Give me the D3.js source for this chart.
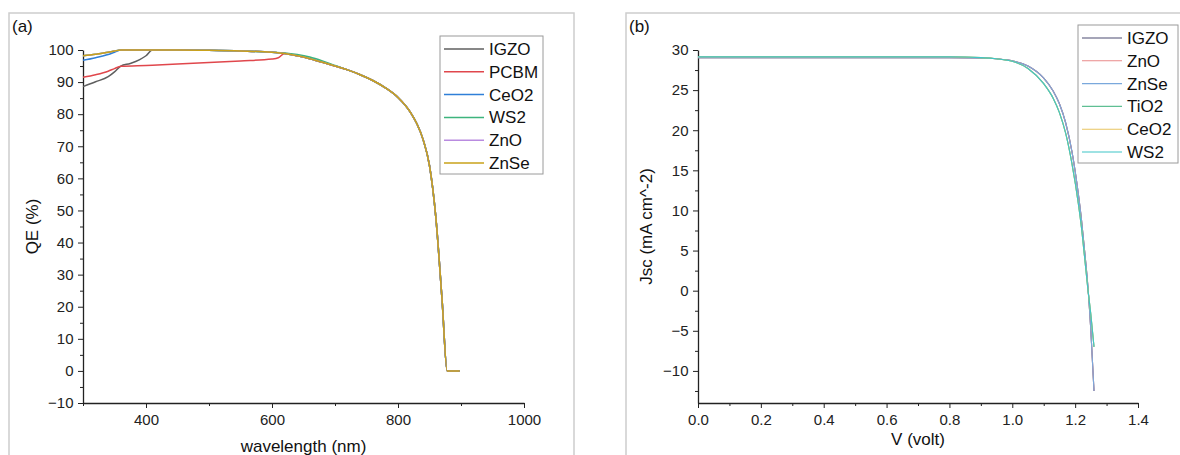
<!DOCTYPE html>
<html lang="en">
<head>
    <meta charset="UTF-8">
    <title>QE and J-V curves</title>
    <script src="https://cdnjs.cloudflare.com/ajax/libs/d3/7.8.5/d3.min.js"></script>
    <style>
        body {
            margin: 0;
            background-color: white;
            font-family: "Liberation Sans", Arial, sans-serif;
        }
        .axis path, .axis line {
            stroke: #222;
        }
        .axis text {
            font-family: "Liberation Sans", Arial, sans-serif;
            font-size: 15px;
            fill: #222;
        }
        .title {
            font-size: 17px;
            fill: #111;
        }
        .legend-text {
            font-size: 17px;
            fill: #111;
        }
    </style>
</head>
<body>
    <svg id="chart" width="1180" height="455"></svg>

    <script>
        // ---- data: panel (a) quantum efficiency ----
        const igzoNm = [300, 320, 340, 350, 360, 375, 390, 400, 410, 450, 500, 550, 600];
        const igzoQe = [88.6, 90.1, 91.7, 93.2, 95.0, 95.8, 97.0, 98.2, 100, 100, 99.9, 99.7, 99.3];
        const pcbmNm = [300, 320, 340, 350, 360, 400, 450, 500, 550, 600, 610];
        const pcbmQe = [91.5, 92.3, 93.4, 94.2, 94.9, 95.2, 95.6, 96.1, 96.6, 97.2, 97.6];
        const ceo2Nm = [300, 320, 340, 350, 360, 400, 450, 500, 550, 600];
        const ceo2Qe = [96.8, 97.6, 98.6, 99.3, 100, 100, 100, 99.9, 99.7, 99.3];
        const znseNm = [300, 320, 340, 350, 360, 400, 450, 500, 550, 600];
        const znseQe = [98.2, 98.7, 99.3, 99.7, 100, 100, 100, 99.9, 99.7, 99.3];

        // common long-wavelength tail, WS2 sits a bit higher around 620-700 nm
        const tailNm = [620, 640, 660, 680, 700, 720, 740, 760, 780, 800, 820, 830, 840, 850, 860, 870, 878, 890, 898];
        const tailQe = [98.9, 98.2, 97.3, 96.2, 95.0, 93.8, 92.3, 90.5, 88.2, 85.2, 80.5, 77.0, 72.0, 64.0, 48.0, 22.0, 0, 0, 0];
        const ws2TailQe = [99.1, 98.6, 97.8, 96.6, 95.2, 93.8, 92.3, 90.5, 88.2, 85.2, 80.5, 77.0, 72.0, 64.0, 48.0, 22.0, 0, 0, 0];

        const qeNames = ["IGZO", "PCBM", "CeO2", "WS2", "ZnO", "ZnSe"];
        const qeColors = ["#5f5f5f", "#e0474c", "#2f7fd8", "#3db47d", "#b98be0", "#c9a21a"];

        // ---- data: panel (b) J-V ----
        const voltage = [0, 0.1, 0.2, 0.3, 0.4, 0.5, 0.6, 0.7, 0.8, 0.9, 0.95, 1.0, 1.05, 1.1, 1.13, 1.15, 1.17, 1.19, 1.21, 1.22, 1.23, 1.24, 1.25, 1.26];
        const jscIGZO = [29.05, 29.05, 29.05, 29.05, 29.05, 29.05, 29.05, 29.05, 29.05, 29.0, 28.9, 28.65, 28.0, 26.5, 24.9, 23.3, 20.9, 17.3, 12.1, 8.9, 5.0, 0.8, -5.0, -12.5];
        const jscZnO  = [29.05, 29.05, 29.05, 29.05, 29.05, 29.05, 29.05, 29.05, 29.05, 29.0, 28.9, 28.65, 28.0, 26.5, 24.9, 23.3, 20.9, 17.3, 12.1, 8.9, 5.0, 0.8, -5.0, -12.5];
        const jscZnSe = [29.05, 29.05, 29.05, 29.05, 29.05, 29.05, 29.05, 29.05, 29.05, 29.0, 28.9, 28.65, 28.0, 26.5, 24.9, 23.3, 20.9, 17.3, 12.1, 8.9, 5.0, 0.8, -5.0, -12.5];
        const jscTiO2 = [29.15, 29.15, 29.15, 29.15, 29.15, 29.15, 29.15, 29.15, 29.15, 29.05, 28.9, 28.6, 27.7, 25.8, 24.0, 22.2, 19.6, 15.8, 10.9, 7.9, 4.2, 0.4, -3.0, -7.0];
        const jscCeO2 = [29.15, 29.15, 29.15, 29.15, 29.15, 29.15, 29.15, 29.15, 29.15, 29.05, 28.9, 28.6, 27.7, 25.8, 24.0, 22.2, 19.6, 15.8, 10.9, 7.9, 4.2, 0.4, -3.0, -7.0];
        const jscWS2  = [29.15, 29.15, 29.15, 29.15, 29.15, 29.15, 29.15, 29.15, 29.15, 29.05, 28.9, 28.6, 27.7, 25.8, 24.0, 22.2, 19.6, 15.8, 10.9, 7.9, 4.2, 0.4, -3.0, -7.0];

        const jvNames = ["IGZO", "ZnO", "ZnSe", "TiO2", "CeO2", "WS2"];
        const jvColors = ["#4d4d72", "#e98a8a", "#7aa8dc", "#5fbf93", "#e8c460", "#3fc6c8"];

        const zip = (xs, ys) => xs.map((x, i) => [x, ys[i]]);

        const qeSeries = [
            zip(igzoNm.concat(tailNm), igzoQe.concat(tailQe)),
            zip(pcbmNm.concat(tailNm), pcbmQe.concat(tailQe)),
            zip(ceo2Nm.concat(tailNm), ceo2Qe.concat(tailQe)),
            zip(znseNm.concat(tailNm), znseQe.concat(ws2TailQe)),
            zip(znseNm.concat(tailNm), znseQe.concat(tailQe)),
            zip(znseNm.concat(tailNm), znseQe.concat(tailQe))
        ];
        const jvSeries = [jscIGZO, jscZnO, jscZnSe, jscTiO2, jscCeO2, jscWS2].map(j => zip(voltage, j));

        const svg = d3.select("#chart");

        // panel frames
        svg.append("rect").attr("x", 9).attr("y", 13).attr("width", 565).attr("height", 470)
            .attr("fill", "none").attr("stroke", "#cdcdcd").attr("stroke-width", 1.5);
        svg.append("rect").attr("x", 626).attr("y", 13).attr("width", 570).attr("height", 470)
            .attr("fill", "none").attr("stroke", "#cdcdcd").attr("stroke-width", 1.5);

        function drawPanel(opt) {
            const g = svg.append("g");
            const x = opt.x, y = opt.y;
            const [x0, x1] = x.range();
            const [y0, y1] = y.range();

            // minor ticks first
            g.append("g").attr("class", "axis")
                .attr("transform", `translate(0,${y0})`)
                .call(d3.axisBottom(x).tickValues(opt.xMinor).tickSize(3).tickFormat(""))
                .call(a => a.select(".domain").remove());
            g.append("g").attr("class", "axis")
                .attr("transform", `translate(${x0},0)`)
                .call(d3.axisLeft(y).tickValues(opt.yMinor).tickSize(3).tickFormat(""))
                .call(a => a.select(".domain").remove());

            g.append("g").attr("class", "axis")
                .attr("transform", `translate(0,${y0})`)
                .call(d3.axisBottom(x).tickValues(opt.xTicks).tickSize(5).tickSizeOuter(0).tickFormat(opt.xFormat))
                .call(a => a.selectAll("text").attr("dy", "0.95em"));
            g.append("g").attr("class", "axis")
                .attr("transform", `translate(${x0},0)`)
                .call(d3.axisLeft(y).tickValues(opt.yTicks).tickSize(5).tickSizeOuter(0).tickFormat(opt.yFormat))
                .call(a => a.selectAll("text").attr("dx", "-0.1em"));
            g.selectAll(".domain").attr("stroke-width", 1.3);

            const line = d3.line()
                .x(d => x(d[0]))
                .y(d => y(d[1]))
                .curve(d3.curveMonotoneX);

            opt.series.forEach((s, i) => {
                g.append("path")
                    .datum(s)
                    .attr("fill", "none")
                    .attr("stroke", opt.colors[i])
                    .attr("stroke-width", opt.lineWidth)
                    .attr("d", line);
            });

            // titles
            g.append("text").attr("class", "title")
                .attr("x", (x0 + x1) / 2).attr("y", opt.xTitleY)
                .attr("text-anchor", "middle").text(opt.xTitle);
            g.append("text").attr("class", "title")
                .attr("transform", `translate(${opt.yTitleX},${(y0 + y1) / 2}) rotate(-90)`)
                .attr("text-anchor", "middle").text(opt.yTitle);
            g.append("text").attr("class", "title")
                .attr("x", opt.tag[0]).attr("y", opt.tag[1]).text(opt.tag[2]);

            // legend
            const lg = g.append("g").attr("transform", `translate(${opt.legend[0]},${opt.legend[1]})`);
            lg.append("rect").attr("width", opt.legend[2]).attr("height", 138)
                .attr("fill", "white").attr("stroke", "#9a9a9a").attr("stroke-width", 1);
            opt.names.forEach((n, i) => {
                const yy = 13 + i * 22.8;
                lg.append("line").attr("x1", 4).attr("x2", 44).attr("y1", yy).attr("y2", yy)
                    .attr("stroke", opt.colors[i]).attr("stroke-width", opt.lineWidth);
                lg.append("text").attr("class", "legend-text")
                    .attr("x", 49).attr("y", yy + 6).text(n);
            });
        }

        drawPanel({
            x: d3.scaleLinear([300, 1000], [83, 524]),
            y: d3.scaleLinear([-10, 100], [403, 50]),
            xTicks: [400, 600, 800, 1000],
            xMinor: [300, 500, 700, 900],
            yTicks: d3.range(-10, 101, 10),
            yMinor: d3.range(-5, 100, 10),
            xFormat: d3.format("d"),
            yFormat: d3.format("d"),
            series: qeSeries,
            colors: qeColors,
            names: qeNames,
            lineWidth: 1.5,
            xTitle: "wavelength (nm)",
            yTitle: "QE (%)",
            xTitleY: 452,
            yTitleX: 38,
            tag: [12, 32, "(a)"],
            legend: [440, 36, 103]
        });

        drawPanel({
            x: d3.scaleLinear([0, 1.4], [698, 1138]),
            y: d3.scaleLinear([-14, 30], [403, 50]),
            xTicks: d3.range(0, 1.41, 0.2),
            xMinor: d3.range(0.1, 1.4, 0.2),
            yTicks: d3.range(-10, 31, 5),
            yMinor: d3.range(-12.5, 30, 5),
            xFormat: d3.format(".1f"),
            yFormat: d3.format("d"),
            series: jvSeries,
            colors: jvColors,
            names: jvNames,
            lineWidth: 1.1,
            xTitle: "V (volt)",
            yTitle: "Jsc (mA cm^-2)",
            xTitleY: 445,
            yTitleX: 652,
            tag: [629, 32, "(b)"],
            legend: [1078, 25, 100]
        });
    </script>
</body>
</html>
